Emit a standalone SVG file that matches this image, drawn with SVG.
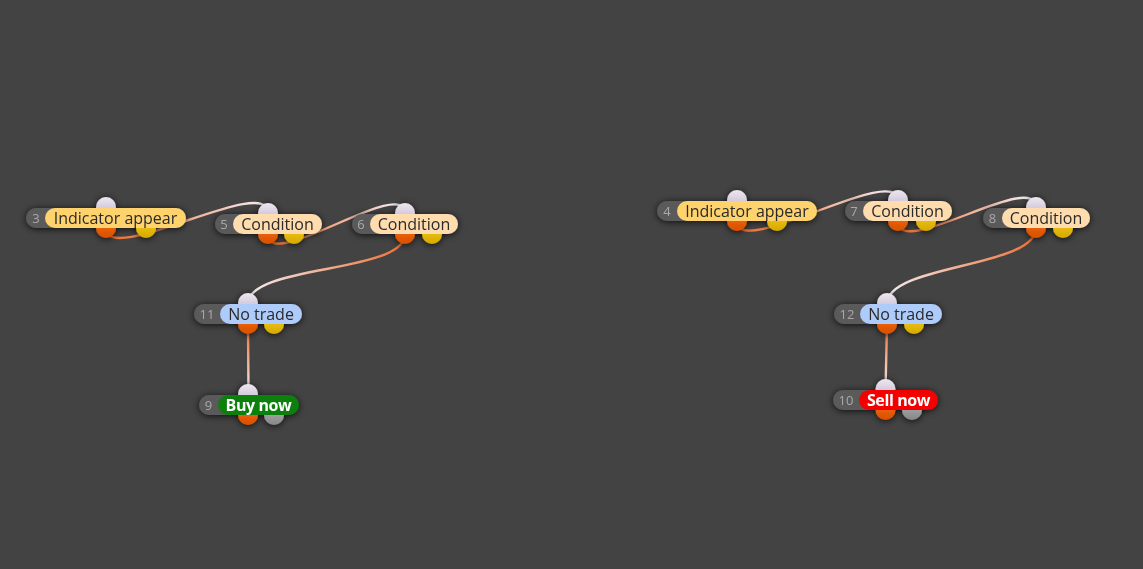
<svg xmlns="http://www.w3.org/2000/svg" width="1143" height="569" viewBox="0 0 1143 569">
<defs>
<style>
.num{font-family:"Open Sans","Noto Sans",sans-serif;font-size:13px;fill:#a9a9a9;text-anchor:middle}
.lbl{font-family:"Open Sans","Noto Sans",sans-serif;font-size:16px;fill:#2a2a2a;text-anchor:middle}
.bld{font-family:"Open Sans","Noto Sans",sans-serif;font-size:16px;font-weight:700;fill:#ffffff;text-anchor:middle;letter-spacing:-0.4px}
.tab{fill:#5a5a5a}
.in{fill:url(#gIn)}
.out{fill:url(#gOut)}
.yel{fill:url(#gYel)}
.gry{fill:url(#gGry)}
.node{filter:url(#sh)}
.wire{fill:none;stroke-width:2.4}
</style>
<filter id="sh" x="-20%" y="-60%" width="140%" height="220%">
<feDropShadow dx="0" dy="1" stdDeviation="3.5" flood-color="#000" flood-opacity="0.8"/>
</filter>
<linearGradient id="gIn" x1="0" y1="0" x2="0" y2="1"><stop offset="0" stop-color="#eee8f2"/><stop offset="1" stop-color="#bfb3c8"/></linearGradient>
<linearGradient id="gOut" x1="0" y1="0" x2="0" y2="1"><stop offset="0" stop-color="#f66f12"/><stop offset="1" stop-color="#d84f00"/></linearGradient>
<linearGradient id="gYel" x1="0" y1="0" x2="0" y2="1"><stop offset="0" stop-color="#f4d018"/><stop offset="1" stop-color="#d6a800"/></linearGradient>
<linearGradient id="gGry" x1="0" y1="0" x2="0" y2="1"><stop offset="0" stop-color="#b4b4b4"/><stop offset="1" stop-color="#878787"/></linearGradient>
<linearGradient id="w1" gradientUnits="userSpaceOnUse" x1="106" y1="228" x2="268" y2="213"><stop offset="0" stop-color="#f06a28"/><stop offset="1" stop-color="#f4f0f8"/></linearGradient>
<linearGradient id="w2" gradientUnits="userSpaceOnUse" x1="268" y1="234" x2="405" y2="214"><stop offset="0" stop-color="#f06a28"/><stop offset="1" stop-color="#f4f0f8"/></linearGradient>
<linearGradient id="w3" gradientUnits="userSpaceOnUse" x1="405" y1="234" x2="248" y2="304"><stop offset="0" stop-color="#f06a28"/><stop offset="1" stop-color="#f4f0f8"/></linearGradient>
<linearGradient id="w4" gradientUnits="userSpaceOnUse" x1="248" y1="324" x2="248" y2="395"><stop offset="0" stop-color="#f06a28"/><stop offset="1" stop-color="#f4f0f8"/></linearGradient>
<linearGradient id="w5" gradientUnits="userSpaceOnUse" x1="737" y1="221" x2="898" y2="201"><stop offset="0" stop-color="#f06a28"/><stop offset="1" stop-color="#f4f0f8"/></linearGradient>
<linearGradient id="w6" gradientUnits="userSpaceOnUse" x1="898" y1="221" x2="1036" y2="208"><stop offset="0" stop-color="#f06a28"/><stop offset="1" stop-color="#f4f0f8"/></linearGradient>
<linearGradient id="w7" gradientUnits="userSpaceOnUse" x1="1036" y1="228" x2="887" y2="304"><stop offset="0" stop-color="#f06a28"/><stop offset="1" stop-color="#f4f0f8"/></linearGradient>
<linearGradient id="w8" gradientUnits="userSpaceOnUse" x1="887" y1="324" x2="885" y2="390"><stop offset="0" stop-color="#f06a28"/><stop offset="1" stop-color="#f4f0f8"/></linearGradient>
</defs>
<rect width="1143" height="569" fill="#434343"/>
<g id="connectors">
<path class="wire" stroke="url(#w1)" d="M106,228 C106,268 268,173 268,213"/>
<path class="wire" stroke="url(#w2)" d="M268,234 C268,274 405,174 405,214"/>
<path class="wire" stroke="url(#w3)" d="M405,234 C405,274 248,264 248,304"/>
<path class="wire" stroke="url(#w4)" d="M248,324 L248.5,395"/>
<path class="wire" stroke="url(#w5)" d="M737,221 C737,261 898,161 898,201"/>
<path class="wire" stroke="url(#w6)" d="M898,221 C898,261 1036,168 1036,208"/>
<path class="wire" stroke="url(#w7)" d="M1036,228 C1036,268 887,264 887,304"/>
<path class="wire" stroke="url(#w8)" d="M887,324 L885.5,390"/>
</g>
<g id="node3" class="node">
<circle class="in" cx="106" cy="207" r="10"/><circle class="out" cx="106" cy="228" r="10"/><circle class="yel" cx="146" cy="228" r="10"/>
<rect class="tab" x="26" y="208" width="100" height="20" rx="10"/>
<rect x="45" y="208" width="141" height="20" rx="10" fill="#fed26c"/>
<text class="num" x="36" y="223">3</text><text class="lbl" x="115.5" y="223.5">Indicator appear</text>
</g>
<g id="node5" class="node">
<circle class="in" cx="268" cy="213" r="10"/><circle class="out" cx="268" cy="234" r="10"/><circle class="yel" cx="294" cy="234" r="10"/>
<rect class="tab" x="215" y="214" width="80" height="20" rx="10"/>
<rect x="233" y="214" width="89" height="20" rx="10" fill="#ffdcae"/>
<text class="num" x="224" y="229">5</text><text class="lbl" x="277.5" y="229.5">Condition</text>
</g>
<g id="node6" class="node">
<circle class="in" cx="405" cy="213" r="10"/><circle class="out" cx="405" cy="234" r="10"/><circle class="yel" cx="432" cy="234" r="10"/>
<rect class="tab" x="352" y="214" width="80" height="20" rx="10"/>
<rect x="370" y="214" width="88" height="20" rx="10" fill="#ffdcae"/>
<text class="num" x="361" y="229">6</text><text class="lbl" x="414" y="229.5">Condition</text>
</g>
<g id="node11" class="node">
<circle class="in" cx="248" cy="303" r="10"/><circle class="out" cx="248" cy="324" r="10"/><circle class="yel" cx="274" cy="324" r="10"/>
<rect class="tab" x="194" y="304" width="80" height="20" rx="10"/>
<rect x="220" y="304" width="82" height="20" rx="10" fill="#aecbfa"/>
<text class="num" x="207" y="319">11</text><text class="lbl" x="261" y="319.5">No trade</text>
</g>
<g id="node9" class="node">
<circle class="in" cx="248" cy="394" r="10"/><circle class="out" cx="248" cy="415" r="10"/><circle class="gry" cx="274" cy="415" r="10"/>
<rect class="tab" x="199" y="395" width="80" height="20" rx="10"/>
<rect x="218" y="395" width="81" height="20" rx="10" fill="#0b7f0b"/>
<text class="num" x="208.5" y="410">9</text><text class="bld" x="258.5" y="410.5">Buy now</text>
</g>
<g id="node4" class="node">
<circle class="in" cx="737" cy="200" r="10"/><circle class="out" cx="737" cy="221" r="10"/><circle class="yel" cx="777" cy="221" r="10"/>
<rect class="tab" x="657" y="201" width="100" height="20" rx="10"/>
<rect x="677" y="201" width="140" height="20" rx="10" fill="#fed26c"/>
<text class="num" x="667" y="216">4</text><text class="lbl" x="747" y="216.5">Indicator appear</text>
</g>
<g id="node7" class="node">
<circle class="in" cx="898" cy="200" r="10"/><circle class="out" cx="898" cy="221" r="10"/><circle class="yel" cx="926" cy="221" r="10"/>
<rect class="tab" x="845" y="201" width="80" height="20" rx="10"/>
<rect x="863" y="201" width="89" height="20" rx="10" fill="#ffdcae"/>
<text class="num" x="854" y="216">7</text><text class="lbl" x="907.5" y="216.5">Condition</text>
</g>
<g id="node8" class="node">
<circle class="in" cx="1036" cy="207" r="10"/><circle class="out" cx="1036" cy="228" r="10"/><circle class="yel" cx="1063" cy="228" r="10"/>
<rect class="tab" x="983" y="208" width="80" height="20" rx="10"/>
<rect x="1002" y="208" width="88" height="20" rx="10" fill="#ffdcae"/>
<text class="num" x="992.5" y="223">8</text><text class="lbl" x="1046" y="223.5">Condition</text>
</g>
<g id="node12" class="node">
<circle class="in" cx="887" cy="303" r="10"/><circle class="out" cx="887" cy="324" r="10"/><circle class="yel" cx="914" cy="324" r="10"/>
<rect class="tab" x="834" y="304" width="80" height="20" rx="10"/>
<rect x="860" y="304" width="82" height="20" rx="10" fill="#aecbfa"/>
<text class="num" x="847" y="319">12</text><text class="lbl" x="901" y="319.5">No trade</text>
</g>
<g id="node10" class="node">
<circle class="in" cx="885.5" cy="389" r="10"/><circle class="out" cx="885.5" cy="410" r="10"/><circle class="gry" cx="912" cy="410" r="10"/>
<rect class="tab" x="833" y="390" width="80" height="20" rx="10"/>
<rect x="859" y="390" width="79" height="20" rx="10" fill="#f50000"/>
<text class="num" x="846" y="405">10</text><text class="bld" x="898.5" y="405.5">Sell now</text>
</g>
</svg>
